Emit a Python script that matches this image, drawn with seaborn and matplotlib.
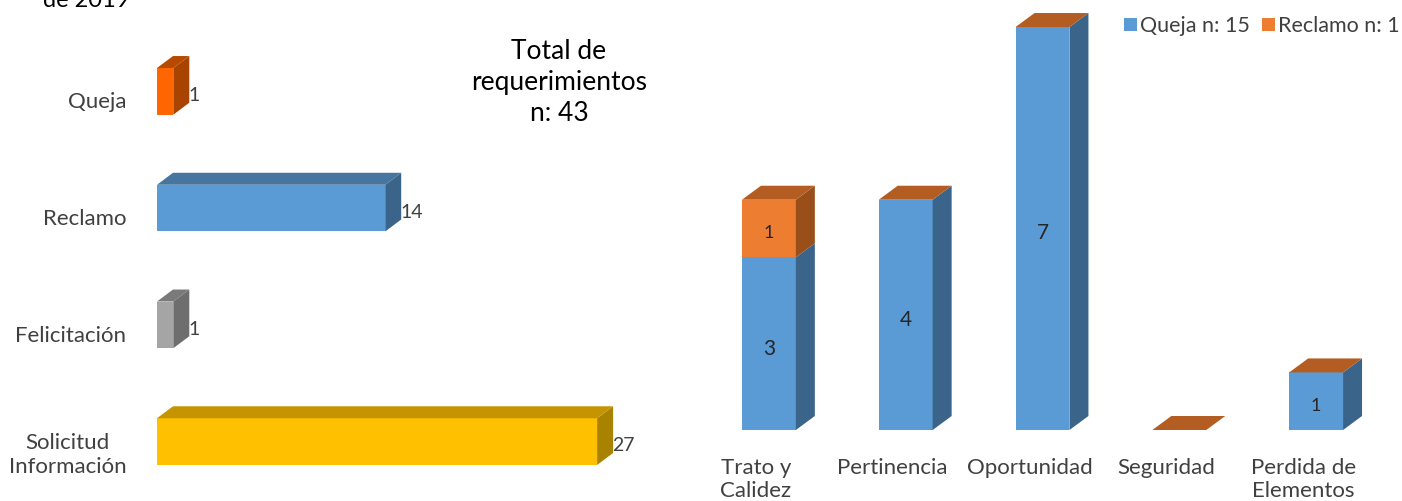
import pandas as pd
import seaborn as sns
import matplotlib.pyplot as plt
from matplotlib.patches import Polygon
from matplotlib.transforms import ScaledTranslation

tipos = ['Queja', 'Reclamo', 'Felicitación', 'Solicitud\nInformación']
tipos_n = [1, 14, 1, 27]
tipos_front = ['#FF6600', '#5B9BD5', '#A5A5A5', '#FFC000']
tipos_top = ['#B84A00', '#4675A0', '#7A7A7A', '#C49500']
tipos_side = ['#A84300', '#3A6489', '#6E6E6E', '#A98200']

motivos = ['Trato y\nCalidez', 'Pertinencia', 'Oportunidad', 'Seguridad', 'Perdida de\nElementos']
queja = [3, 4, 7, 0, 1]
reclamo = [1, 0, 0, 0, 0]
leyenda = ['Queja n: 15', 'Reclamo n: 1']

W, H = 1402, 501
GRAY = '#404040'
FONT = ['Lato', 'DejaVu Sans']


def px_axes(x0, y0, x1, y1):
    # pixel box measured from top left
    return fig.add_axes([x0 / W, 1 - y1 / H, (x1 - x0) / W, (y1 - y0) / H])


def shift(ax, label, dx, dy):
    label.set_transform(label.get_transform() + ScaledTranslation(dx / 100, -dy / 100, fig.dpi_scale_trans))


def box(ax, x0, y0, x1, y1, dx, dy, side=None, top=None):
    # side and top faces of a bar, depth given in pixels
    to_px = ax.transData.transform
    to_data = ax.transData.inverted().transform
    a, b = to_px((x0, y0)), to_px((x1, y1))
    left, right = min(a[0], b[0]), max(a[0], b[0])
    low, high = min(a[1], b[1]), max(a[1], b[1])
    if side:
        pts = [(right, low), (right + dx, low + dy), (right + dx, high + dy), (right, high)]
        ax.add_patch(Polygon(to_data(pts), color=side, lw=0, clip_on=False))
    if top:
        pts = [(left, high), (left + dx, high + dy), (right + dx, high + dy), (right, high)]
        ax.add_patch(Polygon(to_data(pts), color=top, lw=0, clip_on=False))


sns.set_theme(style='white')
plt.rcParams['font.family'] = FONT

fig = plt.figure(figsize=(14.02, 5.01), dpi=100)

# left chart
ax1 = px_axes(157, 33, 646, 500)
df1 = pd.DataFrame({'tipo': tipos, 'n': tipos_n})
sns.barplot(data=df1, x='n', y='tipo', hue='tipo', palette=tipos_front, legend=False,
            width=0.4, saturation=1, linewidth=0, ax=ax1)
ax1.set_xlim(0, 30)
ax1.set_ylim(3.5, -0.5)
ax1.set_xlabel('')
ax1.set_ylabel('')
ax1.set_xticks([])
ax1.tick_params(axis='y', length=0, pad=22, labelsize=16, labelcolor=GRAY)
for lab in ax1.get_yticklabels():
    lab.set_multialignment('center')
    lab.set_linespacing(1.25)
    shift(ax1, lab, 0, 9)
sns.despine(ax=ax1, left=True, bottom=True)

for i, n in enumerate(tipos_n):
    box(ax1, 0, i - 0.2, n, i + 0.2, 16, 12, tipos_side[i], tipos_top[i])
    ax1.annotate(str(n), (n, i), xytext=(15.5 * 0.72, -3), textcoords='offset points',
                 va='center', ha='left', fontsize=14, color=GRAY)

# right chart, orange total behind the blue part
ax2 = px_axes(700.5, 4, 1384.5, 430)
total = [q + r for q, r in zip(queja, reclamo)]
df2 = pd.DataFrame({'motivo': motivos, 'queja': queja, 'total': total})
sns.barplot(data=df2, x='motivo', y='total', color='#ED7D31', width=0.394, saturation=1, linewidth=0, ax=ax2)
sns.barplot(data=df2, x='motivo', y='queja', color='#5B9BD5', width=0.394, saturation=1, linewidth=0, ax=ax2)
ax2.set_xlim(-0.5, 4.5)
ax2.set_ylim(0, 7.4)
ax2.set_xlabel('')
ax2.set_ylabel('')
ax2.set_yticks([])
ax2.tick_params(axis='x', length=0, pad=20, labelsize=16, labelcolor=GRAY)
for lab in ax2.get_xticklabels():
    lab.set_linespacing(1.2)
    shift(ax2, lab, -13, 0)
sns.despine(ax=ax2, left=True, bottom=True)

for i, (q, r) in enumerate(zip(queja, reclamo)):
    w = 0.394 / 2
    if q:
        box(ax2, i - w, 0, i + w, q, 19, 14, side='#3A6489')
    if r:
        box(ax2, i - w, q, i + w, q + r, 19, 14, side='#9A4F1B')
    box(ax2, i - w, 0, i + w, q + r, 19, 14, top='#B35D22')
    if q:
        ax2.annotate(str(q), (i, q / 2), xytext=(0, -3.5), textcoords='offset points',
                     ha='center', va='center', fontsize=15 if q > 1 else 13, color='#262626')
    if r:
        ax2.annotate(str(r), (i, q + r / 2), xytext=(0, -3), textcoords='offset points',
                     ha='center', va='center', fontsize=13, color='#262626')

ax2.legend(handles=[ax2.containers[1], ax2.containers[0]], labels=leyenda, ncol=2, frameon=False,
           loc='upper left', bbox_to_anchor=(1124 / W, 1 - 16 / H), bbox_transform=fig.transFigure,
           fontsize=15.5, labelcolor=GRAY, handlelength=0.6, handleheight=0.6,
           handletextpad=0.15, columnspacing=0.55, borderpad=0, borderaxespad=0)

# texts of the slide
fig.text(86 / W, 1 - 7 / H, 'de 2019', ha='center', va='baseline', fontsize=17, color='black')
fig.text(559 / W, 1 - 83 / H, 'Total de\nrequerimientos\nn: 43', ha='center', va='center', fontsize=19,
         color='black', linespacing=1.3)
ax1.set_zorder(2)

fig.savefig('out.png', dpi=100)
